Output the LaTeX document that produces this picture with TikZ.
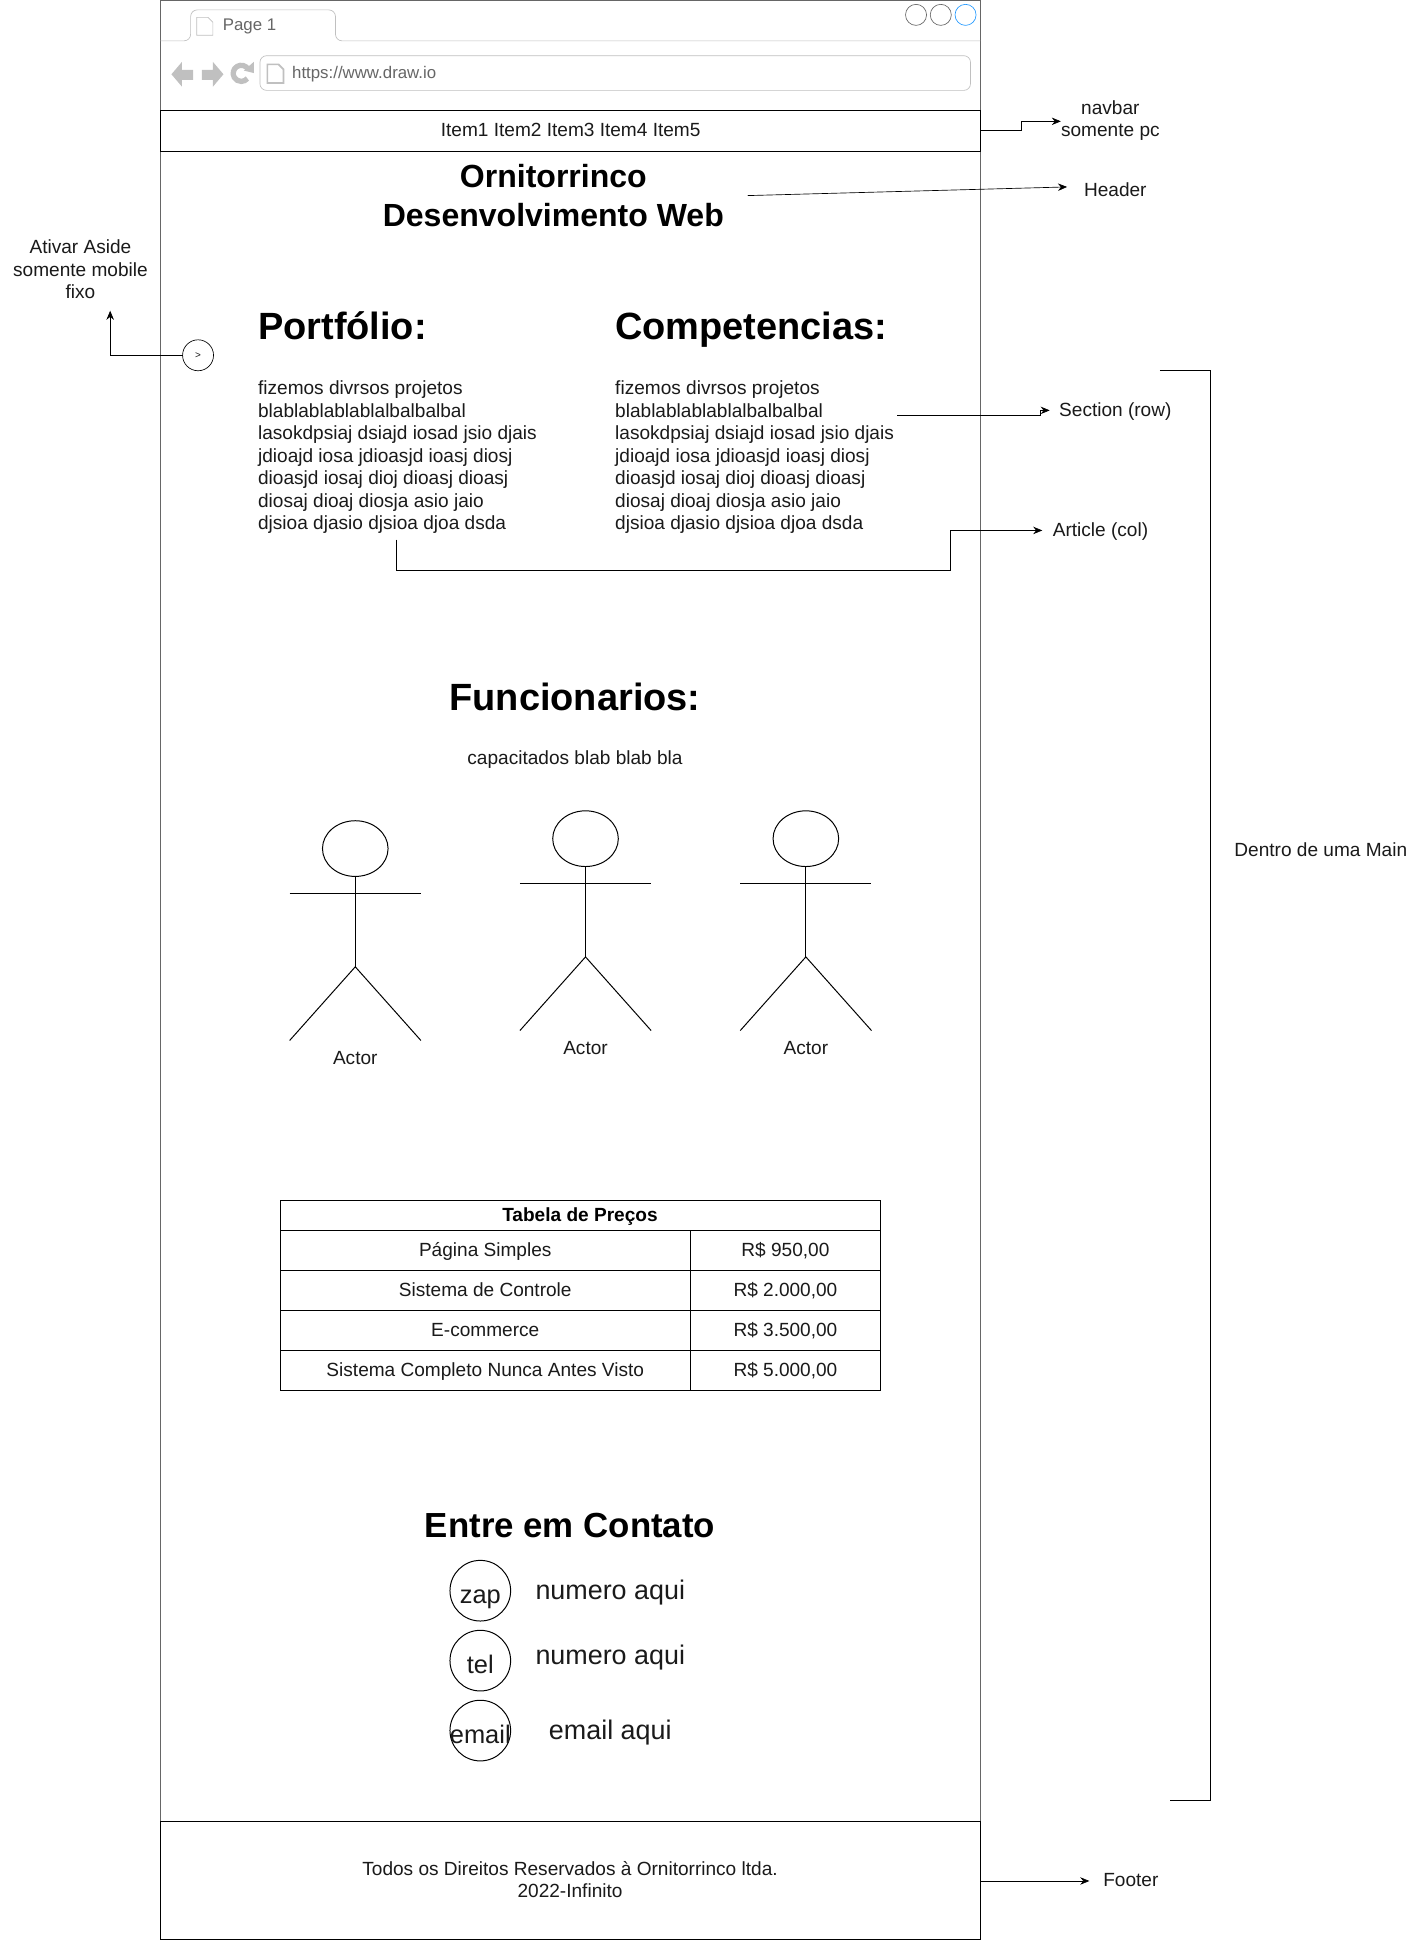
\documentclass[tikz,border=0pt]{standalone}
\usepackage{fontspec}
\setmainfont{Liberation Sans}
\usetikzlibrary{arrows.meta}
\definecolor{txt}{HTML}{1A1A1A}
\definecolor{framegray}{HTML}{666666}
\definecolor{chrome}{HTML}{C0C0C0}
\definecolor{tabtxt}{HTML}{666666}
\definecolor{blueb}{HTML}{2299FF}
\tikzset{
  x=0.75pt,y=-0.75pt,
  line width=0.75pt,
  every node/.style={inner sep=0pt,outer sep=0pt,text=txt},
  labm/.style={font=\fontsize{11.55}{13.65}\selectfont,align=center},
  lab/.style={font=\fontsize{11.55}{13.65}\selectfont,text height=11pt,text depth=2.2pt},
  chromelab/.style={font=\fontsize{10.2}{12}\selectfont,text height=10.5pt,text depth=2.2pt,text=tabtxt,anchor=west},
  para/.style={font=\fontsize{11.55}{13.65}\selectfont,align=left,anchor=north west},
  hbig/.style={font=\fontsize{23}{27}\selectfont\bfseries,text=black,text height=19.5pt,text depth=3.7pt},
  hmain/.style={font=\fontsize{19.4}{23.2}\selectfont\bfseries,align=center,text=black},
  hcon/.style={font=\fontsize{21.1}{25}\selectfont\bfseries,text=black},
  big/.style={font=\fontsize{16.3}{19}\selectfont,text height=14.5pt,text depth=3.3pt},
  icontxt/.style={font=\fontsize{15.4}{18}\selectfont,text height=14pt,text depth=3.2pt},
  arr/.style={-{Stealth[length=5.5pt,width=4.5pt]}},
  thin/.style={line width=0.6pt},
  navc/.style={fill=chrome,draw=none},
}
\begin{document}
\begin{tikzpicture}
\useasboundingbox (0,0) rectangle (1148,1568);
\fill[white] (0,0) rectangle (1148,1568);
% frame
\draw[framegray] (129.5,0.5) rectangle (792,1567);
% tab line
\draw[chrome,rounded corners=4] (129.5,33) -- (154,33) -- (154,8) -- (271,8) -- (271,33) -- (792,33);
\draw[chrome] (159,14) -- (168,14) -- (172,18) -- (172,28.5) -- (159,28.5) -- cycle;
\node[chromelab] (pg) at (180,19.5) {Page 1};
\node[draw=framegray,circle,minimum size=12.75pt] (c1) at (740,12) {};
\node[draw=framegray,circle,minimum size=12.75pt] (c2) at (760,12) {};
\node[draw=blueb,circle,minimum size=12.75pt] (c3) at (780,12) {};
% nav
\fill[navc] (138.5,60) -- (147,50) -- (147,56.5) -- (156,56.5) -- (156,64.5) -- (147,64.5) -- (147,70) -- cycle;
\fill[navc] (180.5,60) -- (172,50) -- (172,56.5) -- (163,56.5) -- (163,64.5) -- (172,64.5) -- (172,70) -- cycle;
\draw[chrome,line width=3.2pt] (200.5,56) arc[start angle=-30,end angle=-320,radius=6.5];
\fill[navc] (197,57) -- (205,50) -- (205,59) -- cycle;
\draw[chrome,rounded corners=4] (210,45) rectangle (784,73);
\draw[chrome,line width=1pt] (216,52) -- (225,52) -- (229,56) -- (229,67) -- (216,67) -- cycle;
\node[chromelab] (url) at (236,58) {https://www.draw.io};
% navbar
\node[draw=black,minimum width=496.9pt,minimum height=24.75pt] (nav) at (460.75,105.5) {};
\node[lab] (navt) at (461,104.5) {Item1 Item2 Item3 Item4 Item5};
\node[labm] (navl) at (897,97.5) {navbar\\somente pc};
\coordinate (navc) at (857,98);
\draw[arr] (nav.east) -- (825,105.5) -- (825,98) -- (navc);
% header
\node[hmain] (title) at (447,158) {Ornitorrinco\\Desenvolvimento Web};
\node[lab] (headl) at (901,153) {Header};
\coordinate (h1) at (604,158);
\coordinate (h2) at (862,151);
\draw[arr] (h1) -- (h2);
% aside
\node[labm] (asl) at (65,217.5) {Ativar Aside\\somente mobile\\fixo};
\node[draw=black,circle,minimum size=18.75pt,font=\fontsize{6}{7}\selectfont] (asd) at (160,287) {>};
\coordinate (ast) at (89,251);
\draw[arr] (asd.west) -- (89,287) -- (ast);
% sections
\node[hbig,anchor=west] (port) at (208.5,264) {Portfólio:};
\node[hbig,anchor=west] (comp) at (497,264) {Competencias:};
\node[para] (p1) at (208.5,307.5) {fizemos divrsos projetos\\blablablablablalbalbalbal\\lasokdpsiaj dsiajd iosad jsio djais\\jdioajd iosa jdioasjd ioasj diosj\\dioasjd iosaj dioj dioasj dioasj\\diosaj dioaj diosja asio jaio\\djsioa djasio djsioa djoa dsda};
\node[para] (p2) at (497,307.5) {fizemos divrsos projetos\\blablablablablalbalbalbal\\lasokdpsiaj dsiajd iosad jsio djais\\jdioajd iosa jdioasjd ioasj diosj\\dioasjd iosaj dioj dioasj dioasj\\diosaj dioaj diosja asio jaio\\djsioa djasio djsioa djoa dsda};
\node[lab] (secl) at (901,330.5) {Section (row)};
\node[lab] (artl) at (889,427.5) {Article (col)};
\coordinate (s1) at (725,335.5);
\coordinate (s2) at (848,331.5);
\draw[arr] (s1) -- (840,335.5) -- (840,331.5) -- (s2);
\coordinate (a1) at (320,436);
\coordinate (a2) at (842,428.5);
\draw[arr] (a1) -- (320,461) -- (768,461) -- (768,428.5) -- (a2);
% main bracket
\coordinate (b1) at (937,299);
\coordinate (b2) at (945,1454);
\draw (b1) -- (978,299) -- (978,1454) -- (b2);
\node[lab] (mainl) at (1067,686) {Dentro de uma Main};
% funcionarios
\node[hbig] (func) at (464.5,563.5) {Funcionarios:};
\node[lab] (cap) at (464.5,612) {capacitados blab blab bla};
% actors
\foreach \n/\cx/\ty in {a/287/663,b/473/655,c/651/655}{
  \draw[thin] (\cx,\ty+22.5) ellipse[x radius=26.5,y radius=22.5];
  \draw[thin] (\cx,\ty+45) -- (\cx,\ty+118);
  \draw[thin] (\cx-53,\ty+59) -- (\cx+53,\ty+59);
  \draw[thin] (\cx-53,\ty+177.5) -- (\cx,\ty+118) -- (\cx+53,\ty+177.5);
  \node[lab] (actor\n) at (\cx,\ty+191) {Actor};
}
% table
\draw[thin] (226.5,969.5) rectangle (711.5,1123.5);
\draw[thin] (226.5,994) -- (711.5,994);
\draw[thin] (226.5,1026.5) -- (711.5,1026.5);
\draw[thin] (226.5,1059) -- (711.5,1059);
\draw[thin] (226.5,1091) -- (711.5,1091);
\draw[thin] (557.5,994) -- (557.5,1123.5);
\node[lab,font=\fontsize{11.55}{13.65}\selectfont\bfseries,text=black] (th) at (468.5,981) {Tabela de Preços};
\node[lab] (t1) at (392,1009.5) {Página Simples};
\node[lab] (t2) at (392,1041.5) {Sistema de Controle};
\node[lab] (t3) at (392,1074) {E-commerce};
\node[lab] (t4) at (392,1106.5) {Sistema Completo Nunca Antes Visto};
\node[lab] (v1) at (634.5,1009.5) {R\$ 950,00};
\node[lab] (v2) at (634.5,1041.5) {R\$ 2.000,00};
\node[lab] (v3) at (634.5,1074) {R\$ 3.500,00};
\node[lab] (v4) at (634.5,1106.5) {R\$ 5.000,00};
% contact
\node[hcon] (ct) at (460.5,1232.5) {Entre em Contato};
\foreach \n/\cy/\t/\ty in {z/1285/zap/1288,t/1341.5/tel/1345,e/1398/email/1401}{
  \draw[thin] (388,\cy) circle[radius=24.5];
  \node[icontxt] (ic\n) at (388,\ty) {\t};
}
\node[big] (n1) at (493,1284.5) {numero aqui};
\node[big] (n2) at (493,1337) {numero aqui};
\node[big] (n3) at (493,1397.5) {email aqui};
% footer
\draw[black] (129.5,1471) rectangle (792,1567);
\node[labm] (ft) at (460.5,1518.5) {Todos os Direitos Reservados à Ornitorrinco ltda.\\2022-Infinito};
\node[lab] (fl) at (913.5,1518) {Footer};
\coordinate (f1) at (792,1519.5);
\coordinate (f2) at (880,1519.5);
\draw[arr] (f1) -- (f2);
\end{tikzpicture}
\end{document}
